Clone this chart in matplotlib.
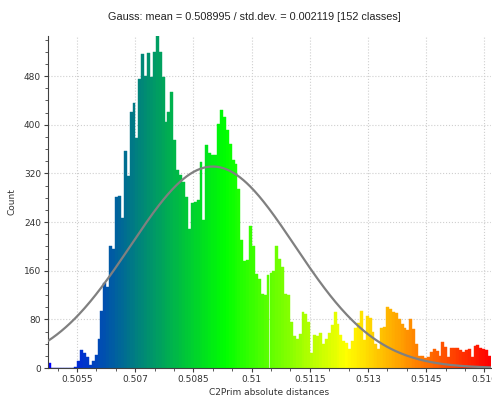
"""Histogram of C2Prim absolute distances with fitted Gauss curve."""
import matplotlib
matplotlib.use("Agg")
import matplotlib.pyplot as plt
import numpy as np
from matplotlib.colors import LinearSegmentedColormap
from matplotlib.ticker import MultipleLocator

# value range covered by the 152 classes
x_min = 0.50475
x_max = 0.51617

gauss_mean = 0.508995
gauss_std = 0.002119

counts = [
    8, 0, 0, 0, 0, 0, 0, 0, 0, 2,
    11, 30, 24, 18, 5, 11, 21, 48, 94, 139,
    134, 200, 196, 282, 283, 247, 357, 316, 421, 435,
    379, 476, 516, 480, 518, 478, 520, 546, 520, 478,
    405, 421, 454, 375, 325, 318, 306, 282, 228, 271,
    273, 277, 339, 244, 367, 353, 351, 350, 402, 424,
    413, 391, 369, 342, 335, 295, 210, 176, 178, 234,
    201, 155, 147, 121, 120, 153, 156, 160, 200, 180,
    166, 122, 120, 76, 53, 47, 56, 92, 89, 76,
    24, 54, 52, 58, 40, 48, 57, 70, 92, 72,
    55, 45, 41, 31, 45, 65, 74, 93, 46, 85,
    83, 60, 40, 31, 65, 68, 100, 97, 92, 90,
    80, 72, 66, 62, 80, 64, 40, 19, 20, 16,
    18, 26, 32, 28, 20, 42, 34, 18, 33, 33,
    33, 30, 26, 30, 31, 18, 37, 38, 33, 32,
    30, 19,
]

x_ticks = [0.5055, 0.507, 0.5085, 0.51, 0.5115, 0.513, 0.5145, 0.516]
x_tick_labels = ["0.5055", "0.507", "0.5085", "0.51", "0.5115", "0.513", "0.5145", "0.516"]
y_ticks = [0, 80, 160, 240, 320, 400, 480]

# colour scale: blue > green > yellow > red
scale_stops = [0.0, 0.40, 0.675, 1.0]
scale_colors = ["#0000ff", "#00ff00", "#ffff00", "#ff0000"]

TEXT = "#333333"


def main():
    n = len(counts)
    edges = np.linspace(x_min, x_max, n + 1)
    bw = edges[1] - edges[0]
    cmap = LinearSegmentedColormap.from_list("bgyr", list(zip(scale_stops, scale_colors)))
    colors = cmap((np.arange(n) + 0.5) / n)

    fig = plt.figure(figsize=(4.92, 3.97), dpi=100)
    ax = fig.add_axes([48 / 492, 29 / 397, 443 / 492, 332 / 397])

    ax.bar(edges[:-1], counts, width=bw, align="edge", color=colors,
           edgecolor=colors, linewidth=0.3, zorder=2)

    # gauss curve scaled to the histogram area
    total = float(np.sum(counts))
    xs = np.linspace(x_min, x_max, 400)
    ys = total * bw / (gauss_std * np.sqrt(2 * np.pi)) * \
        np.exp(-0.5 * ((xs - gauss_mean) / gauss_std) ** 2)
    ax.plot(xs, ys, color="#808080", lw=1.6, zorder=3)

    ax.set_xlim(x_min, x_max)
    ax.set_ylim(0, max(counts))
    ax.set_xticks(x_ticks)
    ax.set_xticklabels(x_tick_labels)
    ax.set_yticks(y_ticks)
    ax.xaxis.set_minor_locator(MultipleLocator(0.0005))
    ax.yaxis.set_minor_locator(MultipleLocator(20))
    ax.tick_params(which="major", length=3, width=0.8, colors="#404040",
                   labelcolor=TEXT, labelsize=6.5, pad=2)
    ax.tick_params(which="minor", length=2, width=0.6, colors="#404040")

    ax.grid(True, which="major", linestyle=":", color="#cfcfcf", linewidth=0.8)
    ax.set_axisbelow(True)
    for side in ("top", "right"):
        ax.spines[side].set_visible(False)
    for side in ("left", "bottom"):
        ax.spines[side].set_color("#404040")
        ax.spines[side].set_linewidth(0.8)

    ax.set_xlabel("C2Prim absolute distances", fontsize=6.5, color=TEXT, labelpad=3)
    ax.set_ylabel("Count", fontsize=6.5, color=TEXT, labelpad=5)

    fig.text(254 / 492, 1 - 17 / 397,
             "Gauss: mean = 0.508995 / std.dev. = 0.002119 [152 classes]",
             ha="center", va="center", fontsize=7.8, color="#222222",
             family="Liberation Sans")

    fig.savefig("out.png", dpi=100, facecolor="white")


if __name__ == "__main__":
    main()
